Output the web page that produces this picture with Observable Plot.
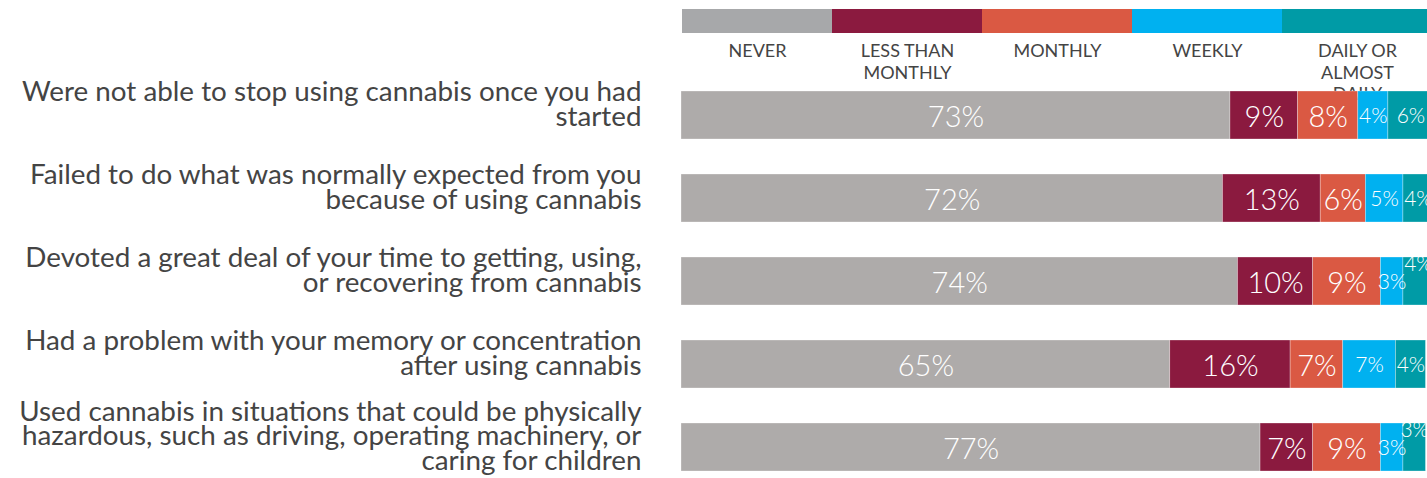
<!DOCTYPE html>
<html><head><meta charset="utf-8">
<script src="https://cdn.jsdelivr.net/npm/d3@7"></script>
<script src="https://cdn.jsdelivr.net/npm/@observablehq/plot@0.6"></script>
<style>
html,body{margin:0;padding:0;background:#fff;overflow:hidden}
#wrap{position:relative;width:1427px;height:478px;overflow:hidden}
#wrap svg{position:absolute;left:0;top:0;max-width:none}
</style></head><body><div id="wrap"></div>
<script>
const questions = [
  "Were not able to stop using cannabis once you had\nstarted",
  "Failed to do what was normally expected from you\nbecause of using cannabis",
  "Devoted a great deal of your time to getting, using,\nor recovering from cannabis",
  "Had a problem with your memory or concentration\nafter using cannabis",
  "Used cannabis in situations that could be physically\nhazardous, such as driving, operating machinery, or\ncaring for children"
];
const frequencies = ["Never", "Less than monthly", "Monthly", "Weekly", "Daily or almost daily"];
const legendLabels = ["NEVER", "LESS THAN\nMONTHLY", "MONTHLY", "WEEKLY", "DAILY OR\nALMOST\nDAILY"];
const never = [73, 72, 74, 65, 77];
const lessThanMonthly = [9, 13, 10, 16, 7];
const monthly = [8, 6, 9, 7, 9];
const weekly = [4, 5, 3, 7, 3];
const daily = [6, 4, 4, 4, 3];
const barColors = ["#AEABAA", "#8B1A3F", "#DA5943", "#00B1F0", "#009BA6"];
const legendColors = ["#A7A8AA", "#8B1A3F", "#DA5943", "#00B1F0", "#009BA6"];

const series = [never, lessThanMonthly, monthly, weekly, daily];
const rows = [];
questions.forEach((q, qi) => {
  frequencies.forEach((f, fi) => {
    rows.push({question: q, freq: f, fi, value: series[fi][qi], crowded: weekly[qi] < 5 && daily[qi] < 5});
  });
});

const FONT = "Lato, 'Source Sans Pro', 'Open Sans', sans-serif";
const xRange = [681, 1433];

const legend = Plot.plot({
  width: 1427, height: 100,
  marginLeft: 681, marginRight: 0, marginTop: 9, marginBottom: 67,
  style: {fontFamily: FONT, background: "transparent", overflow: "visible"},
  x: {domain: frequencies, range: xRange, padding: 0, axis: null},
  color: {domain: frequencies, range: legendColors},
  marks: [
    Plot.cell(frequencies, {x: d => d, fill: d => d}),
    Plot.text(frequencies, {x: d => d, text: (d, i) => legendLabels[i], frameAnchor: "bottom",
      lineAnchor: "top", dy: 9, fontSize: 18, lineHeight: 1.17, fill: "#444"})
  ]
});

const big = d => d.fi < 3;
const raised = d => d.crowded && d.fi === 4;
const stacked = extra => Plot.stackX({x: "value", y: "question", z: "freq", text: d => d.value + "%", fill: "white", ...extra});

const main = Plot.plot({
  width: 1427, height: 478,
  marginLeft: 681, marginRight: 0, marginTop: 0, marginBottom: 0,
  style: {fontFamily: FONT, background: "transparent", overflow: "visible"},
  x: {domain: [0, 100], range: xRange, axis: null},
  y: {domain: questions, range: [54.75, 506.25], padding: 0.4234, axis: null},
  color: {domain: frequencies, range: barColors},
  marks: [
    Plot.barX(rows, Plot.stackX({x: "value", y: "question", fill: "freq", stroke: "#fff", strokeWidth: 0.6, strokeOpacity: 0.5})),
    Plot.textX(rows, Plot.filter(big, stacked({fontSize: 29, fontWeight: 300, dy: 2}))),
    Plot.textX(rows, Plot.filter(d => !big(d) && !raised(d), stacked({fontSize: 21, fontWeight: 300, dy: 1}))),
    Plot.textX(rows, Plot.filter(raised, stacked({fontSize: 21, fontWeight: 300, dy: -17}))),
    Plot.text(questions, {y: d => d, text: d => d, frameAnchor: "left", dx: -40, textAnchor: "end",
      lineAnchor: "middle", dy: -10, fontSize: 27.8, lineHeight: 0.88, fill: "#444"})
  ]
});

const wrap = document.getElementById("wrap");
wrap.appendChild(legend);
wrap.appendChild(main);
</script>
</body></html>
